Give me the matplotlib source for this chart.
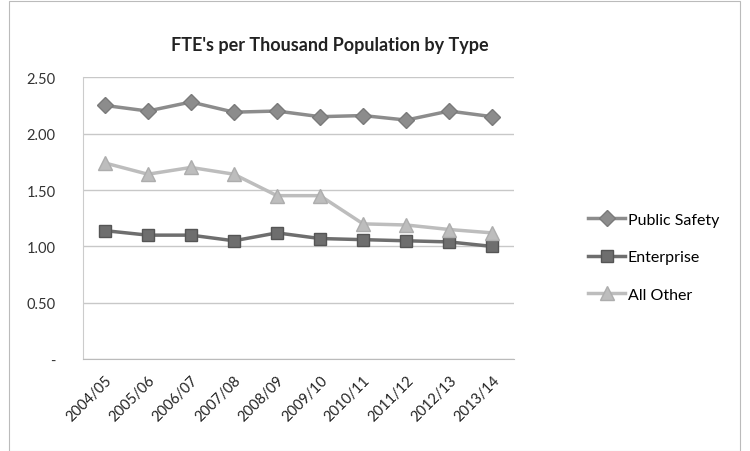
import matplotlib.pyplot as plt
from matplotlib.patches import Rectangle
from matplotlib.transforms import ScaledTranslation

plt.rcParams['font.family'] = ['Lato', 'DejaVu Sans']

years = ['2004/05', '2005/06', '2006/07', '2007/08', '2008/09',
         '2009/10', '2010/11', '2011/12', '2012/13', '2013/14']
public_safety = [2.25, 2.20, 2.28, 2.19, 2.20, 2.15, 2.16, 2.12, 2.20, 2.15]
enterprise = [1.14, 1.10, 1.10, 1.05, 1.12, 1.07, 1.06, 1.05, 1.04, 1.00]
all_other = [1.74, 1.64, 1.70, 1.64, 1.45, 1.45, 1.20, 1.19, 1.15, 1.12]

fig = plt.figure(figsize=(7.5, 4.52), dpi=100)
ax = fig.add_axes([0.111, 0.203, 0.574, 0.624])

x = range(len(years))
ax.plot(x, public_safety, color='#8c8c8c', lw=2.5, marker='D', ms=8,
        mec='#7a7a7a', label='Public Safety')
ax.plot(x, enterprise, color='#6e6e6e', lw=2.5, marker='s', ms=9,
        mec='#555555', label='Enterprise')
ax.plot(x, all_other, color='#bdbdbd', lw=2.5, marker='^', ms=10,
        mec='#adadad', label='All Other')

ax.set_xlim(-0.5, len(years) - 0.5)
ax.set_ylim(0, 2.5)
ax.set_yticks([0, 0.5, 1.0, 1.5, 2.0, 2.5])
ax.set_yticklabels(['-', '0.50', '1.00', '1.50', '2.00', '2.50'], fontsize=10.5, color='#333333')
ax.set_xticks(list(x))
ax.set_xticklabels(years, rotation=45, ha='right', rotation_mode='anchor', fontsize=10.5, color='#222222')
off = ScaledTranslation(12 / 100, 0, fig.dpi_scale_trans)
for lab in ax.get_xticklabels():
    lab.set_transform(lab.get_transform() + off)
ax.tick_params(axis='x', length=0, pad=10)
ax.tick_params(axis='y', length=0, pad=20)
ax.grid(axis='y', color='#c8c8c8', lw=1)
ax.set_axisbelow(True)
for s in ['top', 'right']:
    ax.spines[s].set_visible(False)
ax.spines['left'].set_color('#cccccc')
ax.spines['bottom'].set_color('#bbbbbb')

fig.text(0.44, 0.9, "FTE's per Thousand Population by Type", fontsize=13, fontweight='bold',
         color='#222222', ha='center', va='center')
ax.legend(loc='center left', bbox_to_anchor=(1.14, 0.362), frameon=False, fontsize=11.5,
          handlelength=2.3, handletextpad=0.15, labelspacing=1.45)

fig.patches.append(Rectangle((0.012, 0.0), 0.975, 0.995, transform=fig.transFigure,
                             fill=False, ec='#bbbbbb', lw=0.8))

fig.savefig('out.png', dpi=100)
